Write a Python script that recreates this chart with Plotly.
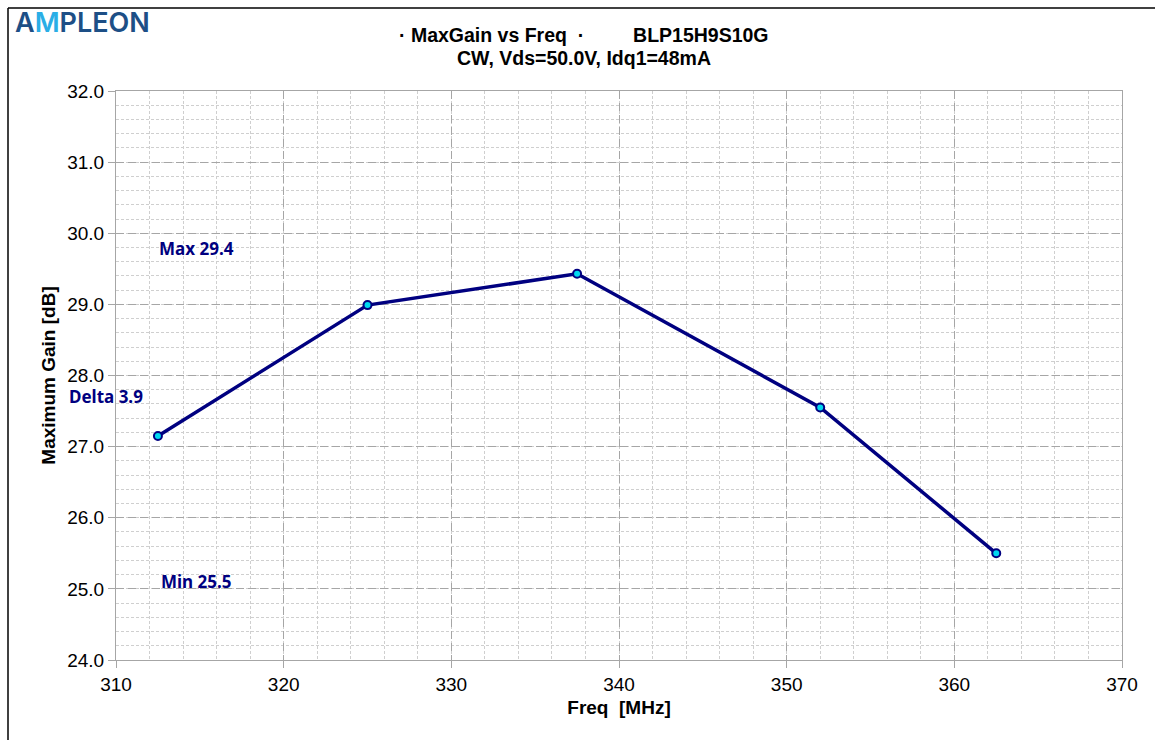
import plotly.graph_objects as go

freq = [312.5, 325.0, 337.5, 352.0, 362.5]
gain = [27.15, 28.99, 29.43, 27.55, 25.50]

x_ticks = [310, 320, 330, 340, 350, 360, 370]
y_ticks = [24.0, 25.0, 26.0, 27.0, 28.0, 29.0, 30.0, 31.0, 32.0]

notes = ["Max 29.4", "Delta 3.9", "Min 25.5"]
note_y = [29.79, 27.71, 25.11]

W, H = 1155, 740
L, R, T, B = 116, 1122, 91, 660

def px(xp):
    return (xp - L) / (R - L)

def py(yp):
    return (B - yp) / (B - T)

NAVY = "#000080"
NB = "\u00a0"

fig = go.Figure()
fig.add_trace(go.Scatter(
    x=freq, y=gain, mode="lines+markers",
    line=dict(color=NAVY, width=3.5),
    marker=dict(symbol="circle", size=8, color="#00d8f0",
                line=dict(color=NAVY, width=2)),
    showlegend=False, cliponaxis=False,
))

axis_font = dict(family="Liberation Sans, Arial", size=19, color="#000000")
title_font = dict(family="Liberation Sans, Arial", size=19, color="#000000")

fig.update_xaxes(
    range=[310, 370], tickvals=x_ticks, ticktext=[str(v) for v in x_ticks],
    showgrid=True, gridcolor="#a6a6a6", griddash="8px,4px", gridwidth=1,
    showline=True, linecolor="#a6a6a6", linewidth=1, mirror=True,
    ticks="outside", ticklen=7, tickcolor="#a6a6a6",
    tickfont=axis_font, zeroline=False,
    minor=dict(dtick=2, showgrid=True, gridcolor="#cfcfcf", griddash="3px,2px", gridwidth=1),
    title=dict(text="<b>Freq" + NB * 2 + "[MHz]</b>", font=title_font, standoff=6),
)
fig.update_yaxes(
    range=[24, 32], tickvals=y_ticks, ticktext=[f"{v:.1f}" for v in y_ticks],
    showgrid=True, gridcolor="#a6a6a6", griddash="8px,4px", gridwidth=1,
    showline=True, linecolor="#a6a6a6", linewidth=1, mirror=True,
    ticks="outside", ticklen=7, tickcolor="#a6a6a6",
    tickfont=axis_font, zeroline=False,
    minor=dict(dtick=0.2, showgrid=True, gridcolor="#cfcfcf", griddash="3px,2px", gridwidth=1),
    title=dict(text="<b>Maximum Gain [dB]</b>", font=title_font, standoff=6),
)

annotations = []
# logo
annotations.append(dict(
    xref="paper", yref="paper", x=px(13), y=py(22), xanchor="left", yanchor="middle",
    showarrow=False,
    text="<span style='color:#1d4f86'>A</span><span style='color:#2aaee6'>M</span>"
         "<span style='color:#1d4f86'>PLEON</span>",
    font=dict(family="Inter, Open Sans", size=27, color="#1d4f86", weight=600),
))
# title
annotations.append(dict(
    xref="paper", yref="paper", x=px(584), y=py(35), xanchor="center", yanchor="middle",
    showarrow=False,
    text="<b>\u00b7 MaxGain vs Freq" + NB * 2 + "\u00b7" + NB * 9 + "BLP15H9S10G</b>",
    font=dict(family="Liberation Sans, Arial", size=19.5, color="#000000"),
))
annotations.append(dict(
    xref="paper", yref="paper", x=px(584), y=py(58), xanchor="center", yanchor="middle",
    showarrow=False,
    text="<b>CW, Vds=50.0V, Idq1=48mA</b>",
    font=dict(family="Liberation Sans, Arial", size=19.5, color="#000000"),
))
note_x = [157, 67, 159]
for t, xx, yy in zip(notes, note_x, note_y):
    annotations.append(dict(
        xref="paper", yref="y", x=px(xx), y=yy, xanchor="left", yanchor="middle",
        showarrow=False, text=f"<b>{t}</b>",
        font=dict(family="Noto Sans, Open Sans", size=17, color=NAVY),
    ))

shapes = [
    dict(type="line", xref="paper", yref="paper", x0=px(8), x1=px(1160), y0=py(8), y1=py(8),
         line=dict(color="#000000", width=1.5)),
    dict(type="line", xref="paper", yref="paper", x0=px(8), x1=px(8), y0=py(8), y1=py(745),
         line=dict(color="#000000", width=1.5)),
]

fig.update_layout(
    width=W, height=H,
    margin=dict(l=L, r=W - R, t=T, b=H - B),
    paper_bgcolor="#ffffff", plot_bgcolor="#ffffff",
    annotations=annotations, shapes=shapes,
    showlegend=False,
)

fig.write_html("out.html")
